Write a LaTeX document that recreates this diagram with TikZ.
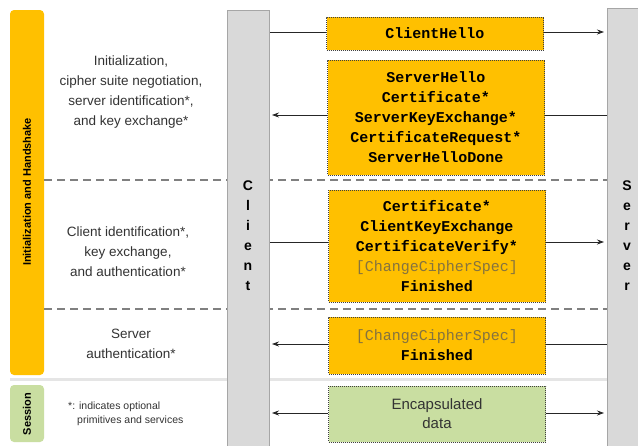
\documentclass[tikz,border=0pt]{standalone}
\usepackage{fontspec}
\setmainfont{Liberation Sans}
\setmonofont{Liberation Mono}
\usetikzlibrary{arrows.meta}
\definecolor{tlsorange}{HTML}{FFC000}
\definecolor{tlsgreen}{HTML}{C9DEA1}
\definecolor{colfill}{HTML}{D9D9D9}
\definecolor{colline}{HTML}{A6A6A6}
\definecolor{textdark}{HTML}{333333}
\definecolor{dimmsg}{HTML}{85733F}
\definecolor{sepgray}{HTML}{808080}
\tikzset{
  phasebar/.style={rounded corners=4pt, draw=none},
  lifeline/.style={fill=colfill, draw=colline, line width=1pt, minimum width=42pt, anchor=north west, inner sep=0pt},
  lifetext/.style={font=\fontsize{14}{20}\selectfont\bfseries, text=black, align=center, inner sep=0pt},
  msgbox/.style={draw=black!75, line width=0.8pt, dash pattern=on 1pt off 1pt, minimum width=217pt, inner sep=0pt,
    align=center, font=\fontsize{15}{20}\selectfont\ttfamily\bfseries},
  phasetext/.style={font=\fontsize{13.5}{20}\selectfont, text=textdark, align=center, inner sep=0pt},
  msg/.style={line width=0.8pt, draw=black!85},
  msgarrow/.style={msg, -{Stealth[length=7pt,width=5pt]}},
  phasesep/.style={draw=sepgray, line width=1.3pt, dash pattern=on 8pt off 5pt},
  barlabel/.style={rotate=90, font=\fontsize{11}{13}\selectfont\bfseries, text=black, inner sep=0pt}
}
\begin{document}
\begin{tikzpicture}[x=1pt, y=-1pt]
\clip (0,0) rectangle (638,445);
\fill[white] (0,0) rectangle (638,445);

% phase bars on the left
\fill[tlsorange, phasebar] (10,10) rectangle (44,375);
\fill[tlsgreen, phasebar] (10,385) rectangle (44,442);
\node[barlabel] (hslabel) at (27,192) {Initialization and Handshake};
\node[barlabel] (seslabel) at (27,414) {Session};

% separators between phases
\draw[draw=black!10, line width=3pt] (10,379) -- (607,379);
\draw[phasesep] (44,180) -- (607,180);
\draw[phasesep] (44,309) -- (607,309);

% client and server lifelines
\node[lifeline, minimum height=445pt] (client) at (227,10) {};
\node[lifeline, minimum height=445pt, minimum width=50pt] (server) at (607,8) {};
\node[lifetext] (clientname) at (248,236) {C\\l\\i\\e\\n\\t};
\node[lifetext] (servername) at (627,236) {S\\e\\r\\v\\e\\r};

% phase descriptions
\node[phasetext] (p1) at (131,92) {Initialization,\\cipher suite negotiation,\\server identification*,\\and key exchange*};
\node[phasetext] (p2) at (128,252) {Client identification*,\\key exchange,\\and authentication*};
\node[phasetext] (p3) at (131,344) {Server\\authentication*};
\node[align=left, inner sep=0pt, anchor=west, text=textdark, font=\fontsize{10.5}{14}\selectfont] (note) at (68,414)
  {*: indicates optional\\\hspace*{9pt}primitives and services};

% handshake messages
\node[msgbox, fill=tlsorange, minimum height=33pt] (m1) at (435,33.5) {ClientHello};
\node[msgbox, fill=tlsorange, minimum height=115pt] (m2) at (436,117.5)
  {ServerHello\\Certificate*\\ServerKeyExchange*\\CertificateRequest*\\ServerHelloDone};
\node[msgbox, fill=tlsorange, minimum height=112pt] (m3) at (437,246)
  {Certificate*\\ClientKeyExchange\\CertificateVerify*\\{\mdseries\color{dimmsg}[ChangeCipherSpec]}\\Finished};
\node[msgbox, fill=tlsorange, minimum height=57pt] (m4) at (437,345.5)
  {{\mdseries\color{dimmsg}[ChangeCipherSpec]}\\Finished};
\node[msgbox, fill=tlsgreen, minimum height=56pt, font=\fontsize{15}{19}\selectfont\rmfamily, text=textdark] (m5) at (437,414)
  {Encapsulated\\data};

% message flows
\draw[msg] ([yshift=1.5pt]m1.west -| client.east) -- ([yshift=1.5pt]m1.west);
\draw[msgarrow] ([yshift=1.5pt]m1.east) -- ([yshift=1.5pt,xshift=-3pt]m1.east -| server.west);

\draw[msg] ([yshift=2.5pt]m2.east -| server.west) -- ([yshift=2.5pt]m2.east);
\draw[msgarrow] ([yshift=2.5pt]m2.west) -- ([yshift=2.5pt,xshift=2pt]m2.west -| client.east);

\draw[msg] ([yshift=4pt]m3.west -| client.east) -- ([yshift=4pt]m3.west);
\draw[msgarrow] ([yshift=4pt]m3.east) -- ([yshift=4pt,xshift=-3pt]m3.east -| server.west);

\draw[msg] ([yshift=1.5pt]m4.east -| server.west) -- ([yshift=1.5pt]m4.east);
\draw[msgarrow] ([yshift=1.5pt]m4.west) -- ([yshift=1.5pt,xshift=2pt]m4.west -| client.east);

\draw[msgarrow] ([yshift=1pt]m5.west) -- ([yshift=1pt,xshift=2pt]m5.west -| client.east);
\draw[msgarrow] ([yshift=1pt]m5.east) -- ([yshift=1pt,xshift=-3pt]m5.east -| server.west);
\end{tikzpicture}
\end{document}
